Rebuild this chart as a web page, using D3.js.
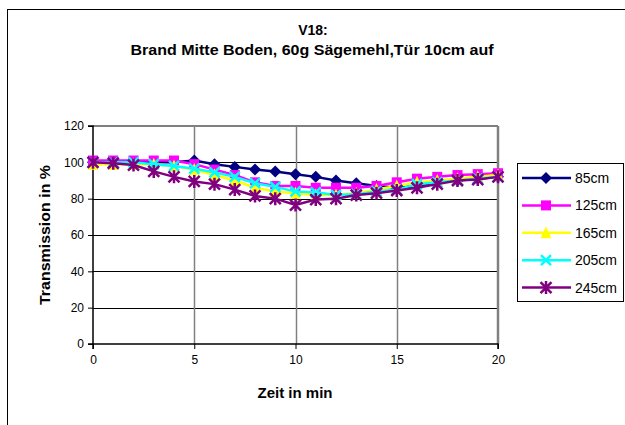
<!DOCTYPE html>
<html><head><meta charset="utf-8">
<script src="https://cdn.jsdelivr.net/npm/d3@7"></script>
<style>body{margin:0;background:#fff}svg{display:block}text{font-family:"Liberation Sans",Arial,sans-serif}</style>
</head><body>
<script>
const minutes = [0,1,2,3,4,5,6,7,8,9,10,11,12,13,14,15,16,17,18,19,20];
const s85  = [100,100,100,100,100,101,99,97.5,96,95,93.5,92,90,88.5,87,86,87,89,90,91,92];
const s125 = [101,101,101,101,101,99,96,93,89,87,87,86,86,86,87,89,91,92,93,93.5,94];
const s165 = [99,99,99,99,98,96,93,90,86,84,83,82,82,83,85,87,89,90,91,92,93];
const s205 = [100,100,100,99,98,96.5,94.5,92,88.5,86.5,84,83.5,82,82.5,84,85,88,89,90,91,92];
const s245 = [100,99.5,98.5,95,92,89.5,88,85,81.5,80,76.5,79.5,80,82,83,84.5,86,88,90,90.5,92];
const seriesNames = ["85cm","125cm","165cm","205cm","245cm"];
const seriesValues = [s85,s125,s165,s205,s245];
const seriesColors = ["#000080","#FF00FF","#FFFF00","#00FFFF","#800080"];
const seriesMarkers = ["diamond","square","triangle","x","star"];
const yTicks = [0,20,40,60,80,100,120];
const xTicks = [0,5,10,15,20];
const titleLines = ["V18:","Brand Mitte Boden, 60g Sägemehl,Tür 10cm auf"];

const W=625,H=425;
const svg=d3.select("body").append("svg").attr("width",W).attr("height",H);
svg.append("rect").attr("x",7.5).attr("y",9.5).attr("width",800).attr("height",600)
  .attr("fill","none").attr("stroke","#000").attr("stroke-width",1);

const L=93,R=498,T=126,B=344;
const x=d3.scaleLinear().domain([0,20]).range([L,R]);
const y=d3.scaleLinear().domain([0,120]).range([B,T]);

// title
svg.append("text").attr("x",313).attr("y",35).attr("text-anchor","middle")
  .attr("font-size",14).attr("font-weight","bold").text(titleLines[0]);
svg.append("text").attr("x",312).attr("y",55).attr("text-anchor","middle")
  .attr("font-size",14).attr("font-weight","bold")
  .attr("textLength",363).attr("lengthAdjust","spacingAndGlyphs").text(titleLines[1]);

svg.append("g").selectAll("line").data(yTicks.filter(v=>v>0&&v<120)).join("line")
  .attr("x1",L).attr("x2",R).attr("y1",d=>Math.round(y(d))+0.5).attr("y2",d=>Math.round(y(d))+0.5)
  .attr("stroke","#000").attr("stroke-width",1);
svg.append("g").selectAll("line").data(xTicks.filter(v=>v>0&&v<20)).join("line")
  .attr("x1",d=>Math.round(x(d))+0.5).attr("x2",d=>Math.round(x(d))+0.5).attr("y1",T).attr("y2",B)
  .attr("stroke","#808080").attr("stroke-width",1.5);
svg.append("line").attr("x1",L).attr("x2",R).attr("y1",T).attr("y2",T).attr("stroke","#808080").attr("stroke-width",2);
svg.append("line").attr("x1",R).attr("x2",R).attr("y1",T).attr("y2",B).attr("stroke","#808080").attr("stroke-width",2.5);

const yAxis=svg.append("g").attr("transform",`translate(${L},0)`)
  .call(d3.axisLeft(y).tickValues(yTicks).tickSize(5).tickPadding(4));
const xAxis=svg.append("g").attr("transform",`translate(0,${B})`)
  .call(d3.axisBottom(x).tickValues(xTicks).tickSize(5).tickPadding(6));
[yAxis,xAxis].forEach(g=>{
  g.select(".domain").attr("stroke","#000").attr("stroke-width",1.5);
  g.selectAll(".tick line").attr("stroke","#000");
  g.selectAll(".tick text").attr("font-size",12).attr("fill","#000")
    .attr("font-family","'Liberation Sans',Arial,sans-serif");
});
yAxis.select(".domain").attr("d",`M-5,${T}H0V${B}H-5`);
xAxis.select(".domain").attr("d",`M${L},5V0H${R}V5`);

svg.append("text").attr("x",295).attr("y",398).attr("text-anchor","middle")
  .attr("font-size",14).attr("font-weight","bold")
  .attr("textLength",75).attr("lengthAdjust","spacingAndGlyphs").text("Zeit in min");
svg.append("text").attr("transform","translate(50,235) rotate(-90)").attr("text-anchor","middle")
  .attr("font-size",14).attr("font-weight","bold")
  .attr("textLength",140).attr("lengthAdjust","spacingAndGlyphs").text("Transmission in %");

function marker(g,type,color,cx,cy){
  if(type==="diamond"){
    const s=6;
    g.append("path").attr("d",`M${cx},${cy-s}L${cx+s},${cy}L${cx},${cy+s}L${cx-s},${cy}Z`).attr("fill",color);
  } else if(type==="square"){
    g.append("rect").attr("x",cx-5).attr("y",cy-5).attr("width",10).attr("height",10).attr("fill",color);
  } else if(type==="triangle"){
    const s=5.5;
    g.append("path").attr("d",`M${cx},${cy-s-1}L${cx+s},${cy+s}L${cx-s},${cy+s}Z`).attr("fill",color);
  } else if(type==="x"){
    g.append("path").attr("d",`M${cx-5},${cy-5}L${cx+5},${cy+5}M${cx-5},${cy+5}L${cx+5},${cy-5}`)
      .attr("stroke",color).attr("stroke-width",2.5);
  } else {
    g.append("path").attr("d",`M${cx-5.5},${cy-5.5}L${cx+5.5},${cy+5.5}M${cx-5.5},${cy+5.5}L${cx+5.5},${cy-5.5}M${cx},${cy-6.5}L${cx},${cy+6.5}`)
      .attr("stroke",color).attr("stroke-width",2.5);
  }
}

const line=d3.line().x((d,i)=>x(minutes[i])).y(d=>y(d));
seriesValues.forEach((vals,k)=>{
  const g=svg.append("g");
  g.append("path").attr("d",line(vals)).attr("fill","none").attr("stroke",seriesColors[k]).attr("stroke-width",2.5);
  vals.forEach((v,i)=>marker(g,seriesMarkers[k],seriesColors[k],x(minutes[i]),y(v)));
});

const lg=svg.append("g");
lg.append("rect").attr("x",517.5).attr("y",163.5).attr("width",106).attr("height",138)
  .attr("fill","#fff").attr("stroke","#000").attr("stroke-width",1);
seriesNames.forEach((n,k)=>{
  const yy=178+k*27.4;
  lg.append("line").attr("x1",522).attr("x2",571).attr("y1",yy).attr("y2",yy)
    .attr("stroke",seriesColors[k]).attr("stroke-width",2.5);
  marker(lg,seriesMarkers[k],seriesColors[k],546,yy);
  lg.append("text").attr("x",575).attr("y",yy+5).attr("font-size",14).text(n);
});
</script>
</body></html>
